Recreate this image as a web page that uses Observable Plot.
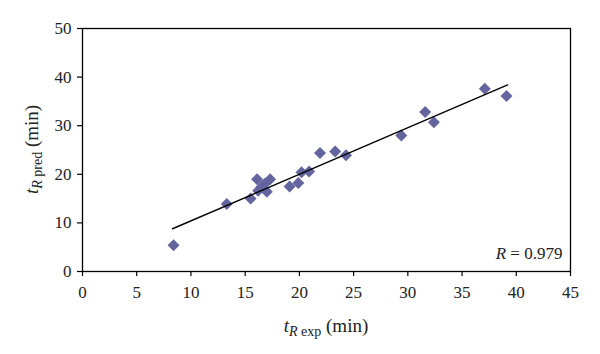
<!DOCTYPE html>
<html><head><meta charset="utf-8">
<script src="https://cdn.jsdelivr.net/npm/d3@7"></script>
<script src="https://cdn.jsdelivr.net/npm/@observablehq/plot@0.6"></script>
<style>body{margin:0;background:#fff}</style>
</head><body><div id="chart"></div>
<script>
const tExp  = [8.4, 13.3, 15.5, 16.1, 16.2, 16.5, 16.8, 17.0, 17.3, 19.1, 19.9, 20.2, 20.9, 21.9, 23.3, 24.3, 29.4, 31.6, 32.4, 37.1, 39.1];
const tPred = [5.4, 13.9, 15.0, 19.0, 16.6, 17.4, 18.0, 16.4, 19.0, 17.5, 18.2, 20.4, 20.6, 24.4, 24.7, 23.9, 28.0, 32.8, 30.7, 37.6, 36.1];
const fitX = [8.3, 39.2];
const fitY = [8.8, 38.4];
const xTicks = [0, 5, 10, 15, 20, 25, 30, 35, 40, 45];
const yTicks = [0, 10, 20, 30, 40, 50];
const rName = "R";
const rValue = " = 0.979";
const rPos = [44.3, 2.4];

const points = tExp.map((x, i) => ({x, y: tPred[i]}));
const fit = fitX.map((x, i) => ({x, y: fitY[i]}));
const FONT = "'Liberation Serif', 'Times New Roman', serif";

const chart = Plot.plot({
  width: 600, height: 354,
  marginLeft: 82, marginRight: 30, marginTop: 28, marginBottom: 83,
  style: {fontFamily: FONT, fontSize: "17px", color: "#222", background: "#fff"},
  x: {domain: [0, 45]},
  y: {domain: [0, 50]},
  marks: [
    Plot.axisX({ticks: xTicks, tickSize: 5, tickPadding: 9, label: null, stroke: "#000", strokeWidth: 1.2}),
    Plot.axisY({ticks: yTicks, tickSize: 5, tickPadding: 6, label: null, stroke: "#000", strokeWidth: 1.2}),
    Plot.dot(points, {x: "x", y: "y", symbol: "diamond2", r: 5.4, fill: "#64649f", stroke: "none"}),
    Plot.line(fit, {x: "x", y: "y", stroke: "#000", strokeWidth: 1.4}),
    Plot.frame({stroke: "#000", strokeWidth: 1.3})
  ]
});
document.getElementById("chart").append(chart);

const svg = d3.select(chart);
const sx = chart.scale("x"), sy = chart.scale("y");

// R label
const rt = svg.append("text")
  .attr("x", sx.apply(rPos[0])).attr("y", sy.apply(rPos[1]))
  .attr("text-anchor", "end")
  .style("font-family", FONT).style("font-size", "17px").attr("fill", "#222");
rt.append("tspan").style("font-style", "italic").text(rName);
rt.append("tspan").text(rValue);

// x axis label
const cx = (sx.range[0] + sx.range[1]) / 2;
const xl = svg.append("text")
  .attr("x", cx).attr("y", 332)
  .attr("text-anchor", "middle")
  .style("font-family", FONT).style("font-size", "19px").attr("fill", "#222");
xl.append("tspan").style("font-style", "italic").text("t");
xl.append("tspan").style("font-style", "italic").style("font-size", "14px").attr("dy", 4).text("R");
xl.append("tspan").style("font-size", "14px").text(" exp");
xl.append("tspan").attr("dy", -4).text(" (min)");

// y axis label
const cy = (sy.range[0] + sy.range[1]) / 2;
const yl = svg.append("text")
  .attr("transform", `translate(38,${cy}) rotate(-90)`)
  .attr("text-anchor", "middle")
  .style("font-family", FONT).style("font-size", "19px").attr("fill", "#222");
yl.append("tspan").style("font-style", "italic").text("t");
yl.append("tspan").style("font-style", "italic").style("font-size", "14px").attr("dy", 4).text("R");
yl.append("tspan").style("font-size", "14px").text(" pred");
yl.append("tspan").attr("dy", -4).text(" (min)");
</script>
</body></html>
